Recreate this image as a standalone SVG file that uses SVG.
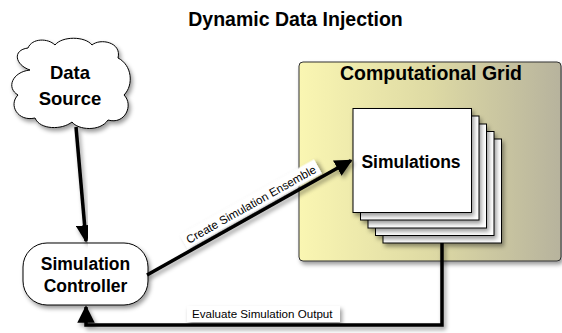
<svg xmlns="http://www.w3.org/2000/svg" width="562" height="333" viewBox="0 0 562 333">
<defs>
<linearGradient id="gridGrad" x1="0" y1="0" x2="1" y2="0">
<stop offset="0" stop-color="#faf6b2"/>
<stop offset="0.5" stop-color="#dedaa4"/>
<stop offset="1" stop-color="#b7b39d"/>
</linearGradient>
<filter id="sh" x="-20%" y="-20%" width="140%" height="140%">
<feDropShadow dx="2" dy="3" stdDeviation="2" flood-color="#000" flood-opacity="0.4"/>
</filter>
<marker id="arr" viewBox="0 0 10 10" refX="9" refY="5" markerWidth="5" markerHeight="5" orient="auto" markerUnits="strokeWidth">
<path d="M0,0 L10,5 L0,10 Z" fill="#000"/>
</marker>
</defs>
<style>
.t{font-family:"Liberation Sans",Arial,sans-serif;font-weight:bold;fill:#000;text-anchor:middle}
.lbl{font-family:"Liberation Sans",Arial,sans-serif;font-size:11.6px;fill:#000}
.box{fill:#fff;stroke:#000;stroke-width:1}
.conn{fill:none;stroke:#000;stroke-width:3.5}
</style>
<text class="t" x="295.5" y="26" font-size="19.5">Dynamic Data Injection</text>

<g id="grid">
<rect x="299" y="62" width="262" height="199" rx="4" fill="url(#gridGrad)" stroke="#333" stroke-width="1" filter="url(#sh)"/>
<text class="t" x="431" y="80" font-size="19.5">Computational Grid</text>
</g>

<g id="simulations">
<rect class="box" x="383" y="139" width="118.5" height="104" filter="url(#sh)"/>
<rect class="box" x="375.5" y="131.5" width="118.5" height="104" filter="url(#sh)"/>
<rect class="box" x="368" y="124" width="118.5" height="104" filter="url(#sh)"/>
<rect class="box" x="360.5" y="116" width="118.5" height="104" filter="url(#sh)"/>
<rect class="box" x="353" y="108.5" width="118.5" height="104" filter="url(#sh)"/>
<text class="t" x="411" y="168" font-size="17.5">Simulations</text>
</g>

<g id="datasource">
<path class="box" filter="url(#sh)" d="M30 70 C15 65 12 50 28 48 C32 38 48 38 55 45 C62 36 85 36 92 45 C100 38 122 42 118 58 C132 65 134 85 124 95 C134 105 125 125 108 120 C100 132 78 130 72 122 C62 130 40 130 35 118 C18 122 8 105 18 95 C6 88 12 72 30 70 Z"/>
<text class="t" x="70" y="79" font-size="18.5">Data</text>
<text class="t" x="70" y="105" font-size="18.5">Source</text>
</g>

<g id="controller">
<rect class="box" x="23" y="243" width="125" height="62" rx="24" filter="url(#sh)"/>
<text class="t" x="85.5" y="270" font-size="17.5">Simulation</text>
<text class="t" x="85.5" y="292" font-size="17.5">Controller</text>
</g>

<g id="connectors">
<path class="conn" d="M76 127 L86 241" marker-end="url(#arr)" stroke-width="3" filter="url(#sh)"/>
<path class="conn" d="M147 275 L351 160.5" marker-end="url(#arr)" stroke-width="3" filter="url(#sh)"/>
<path class="conn" d="M442 243 L442 325 L86 325 L86 307" marker-end="url(#arr)" stroke-width="3.5" filter="url(#sh)"/>
<g transform="translate(251 204.5) rotate(-29.3)">
<rect x="-77" y="-8.5" width="154" height="16" fill="#fff" filter="url(#sh)"/>
<text class="lbl" x="0" y="4" text-anchor="middle">Create Simulation Ensemble</text>
</g>
<rect x="187" y="306" width="153" height="16" fill="#fff" filter="url(#sh)"/>
<text class="lbl" x="192" y="318">Evaluate Simulation Output</text>
</g>
</svg>
